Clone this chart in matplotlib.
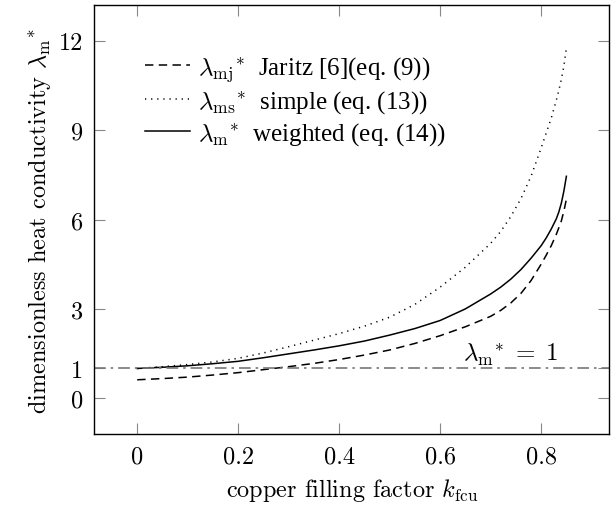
import matplotlib
matplotlib.use("Agg")
import matplotlib.pyplot as plt

# ---- data ----
k_fcu = [0.0, 0.05, 0.1, 0.15, 0.2, 0.25, 0.3, 0.35, 0.4, 0.45, 0.5, 0.55, 0.6, 0.65,
         0.7, 0.72, 0.74, 0.76, 0.78, 0.8, 0.81, 0.82, 0.83, 0.835, 0.84, 0.845, 0.85]
lam_mj = [0.62, 0.66, 0.71, 0.78, 0.86, 0.96, 1.06, 1.17, 1.30, 1.45, 1.62, 1.84, 2.10, 2.40,
          2.75, 2.95, 3.20, 3.52, 3.95, 4.50, 4.80, 5.12, 5.50, 5.72, 5.95, 6.28, 6.68]
lam_ms = [1.0, 1.06, 1.13, 1.22, 1.34, 1.52, 1.73, 1.95, 2.17, 2.42, 2.72, 3.15, 3.73, 4.40,
          5.20, 5.60, 6.10, 6.70, 7.45, 8.40, 8.90, 9.40, 10.0, 10.33, 10.7, 11.15, 11.75]
lam_m = [1.0, 1.04, 1.09, 1.16, 1.24, 1.36, 1.49, 1.62, 1.76, 1.92, 2.12, 2.34, 2.61, 3.0,
         3.5, 3.73, 4.00, 4.32, 4.70, 5.12, 5.38, 5.68, 6.02, 6.25, 6.55, 6.95, 7.45]
x_ticks = [0, 0.2, 0.4, 0.6, 0.8]
x_tick_labels = ["0", "0.2", "0.4", "0.6", "0.8"]
y_ticks = [0, 1, 3, 6, 9, 12]
y_tick_labels = ["0", "1", "3", "6", "9", "12"]
ref_level = 1
legend_labels = [r"$\lambda_{\mathrm{mj}}{}^{*}$  Jaritz [6](eq. (9))",
                 r"$\lambda_{\mathrm{ms}}{}^{*}$  simple (eq. (13))",
                 r"$\lambda_{\mathrm{m}}{}^{*}$  weighted (eq. (14))"]

plt.rcParams["mathtext.fontset"] = "cm"
plt.rcParams["axes.formatter.use_mathtext"] = True

fig = plt.figure(figsize=(6.16, 5.10), dpi=100)
ax = fig.add_axes([94.3 / 616, 75 / 510, 515 / 616, 429 / 510])

l1, = ax.plot(k_fcu, lam_mj, color="black", lw=1.1, ls=(0, (5.5, 3.5)))
l2, = ax.plot(k_fcu, lam_ms, color="black", lw=1.1, ls=(0, (0.8, 3.2)))
l3, = ax.plot(k_fcu, lam_m, color="black", lw=1.1, ls="-")
ax.axhline(ref_level, color="#777777", lw=1.2, ls=(0, (7, 3, 1.5, 3)))

ax.set_xlim(-0.085, 0.935)
ax.set_ylim(-1.2, 13.2)
ax.set_xticks(x_ticks)
ax.set_xticklabels(x_tick_labels, fontfamily="cmr10")
ax.set_yticks(y_ticks)
ax.set_yticklabels(y_tick_labels, fontfamily="cmr10")
ax.tick_params(direction="in", length=8, width=0.8, color="#888888",
               top=True, right=True, labelsize=17.5, pad=8)
for s in ax.spines.values():
    s.set_linewidth(1.0)

ax.set_xlabel(r"copper filling factor $k_{\mathrm{fcu}}$", fontfamily="cmr10", fontsize=17.5, labelpad=6)
ax.set_ylabel(r"dimensionless heat conductivity $\lambda_{\mathrm{m}}{}^{*}$", fontfamily="cmr10",
              fontsize=17.5, labelpad=4)

ax.text(0.833, 1.25, r"$\lambda_{\mathrm{m}}{}^{*}\;=\;1$", fontsize=18, ha="right", va="baseline")

ax.legend([l1, l2, l3], legend_labels, loc="upper left", frameon=False,
          prop={"family": "Liberation Serif", "size": 18},
          handlelength=1.8, handletextpad=0.32, labelspacing=0.22,
          bbox_to_anchor=(0.079, 0.909), borderaxespad=0)

fig.savefig("out.png", dpi=100)
